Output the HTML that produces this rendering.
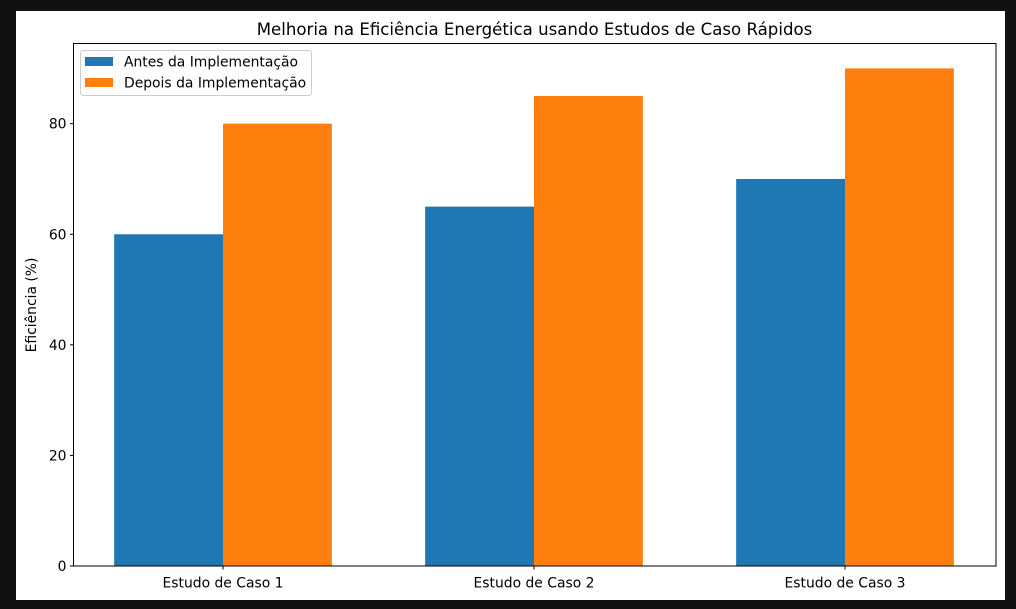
<!DOCTYPE html>
<html><head><meta charset="utf-8"><style>
html,body{margin:0;padding:0;background:#111110;}
svg{display:block;font-family:"DejaVu Sans","Liberation Sans",sans-serif;}
</style></head><body>
<svg id="chart" width="1016" height="609" xmlns="http://www.w3.org/2000/svg">
<rect x="0" y="0" width="1016" height="609" fill="#111110"/>
<rect x="16" y="11" width="989" height="589" fill="#ffffff"/>
<text x="534.5" y="35" font-size="16.6" text-anchor="middle" fill="#000">Melhoria na Eficiência Energética usando Estudos de Caso Rápidos</text>
<g id="bars"></g>
<g id="yticks"></g>
<g id="xticks"></g>
<rect x="73.5" y="43.5" width="922.5" height="522.5" fill="none" stroke="#000" stroke-width="1"/>
<text transform="translate(36,305) rotate(-90)" font-size="13.9" text-anchor="middle" fill="#000">Eficiência (%)</text>
<g>
<rect x="80.5" y="50.5" width="231" height="45" rx="3" fill="#fff" stroke="#ccc"/>
<rect x="85" y="57" width="28" height="9" fill="#1f77b4"/>
<text x="124" y="66.5" font-size="13.9" fill="#000">Antes da Implementação</text>
<rect x="85" y="78" width="28" height="9" fill="#ff7f0e"/>
<text x="124" y="87.5" font-size="13.9" fill="#000">Depois da Implementação</text>
</g>
</svg>
<script>
const categories = ["Estudo de Caso 1","Estudo de Caso 2","Estudo de Caso 3"];
const antes = [60,65,70];
const depois = [80,85,90];
const yTicks = [0,20,40,60,80];
const NS="http://www.w3.org/2000/svg";
const L=73.5,R=996,T=43.5,B=566;
const xMin=-0.4807,xMax=2.4855,yMin=0,yMax=94.5;
const xs=v=>L+(v-xMin)/(xMax-xMin)*(R-L);
const ys=v=>B-(v-yMin)/(yMax-yMin)*(B-T);
const bw=0.35;
function mk(tag,attrs,parent){const e=document.createElementNS(NS,tag);for(const k in attrs)e.setAttribute(k,attrs[k]);parent.appendChild(e);return e;}
const bars=document.getElementById('bars');
categories.forEach((c,i)=>{
  const a=mk('rect',{x:xs(i-bw),y:ys(antes[i]),width:xs(i)-xs(i-bw),height:ys(0)-ys(antes[i]),fill:'#1f77b4'},bars);
  
  
  const d=mk('rect',{x:xs(i),y:ys(depois[i]),width:xs(i+bw)-xs(i),height:ys(0)-ys(depois[i]),fill:'#ff7f0e'},bars);
  
  
});
const yt=document.getElementById('yticks');
yTicks.forEach(v=>{
  const l=mk('line',{x1:L-3.5,x2:L,y1:ys(v),y2:ys(v),stroke:'#000'},yt);
  
  
  const t=mk('text',{x:L-7,y:ys(v)+5,'font-size':13.9,'text-anchor':'end',fill:'#000'},yt);
  t.textContent=v;
  
  
});
const xt=document.getElementById('xticks');
categories.forEach((c,i)=>{
  const l=mk('line',{x1:xs(i),x2:xs(i),y1:B,y2:B+3.5,stroke:'#000'},xt);
  
  
  const t=mk('text',{x:xs(i),y:B+21.5,'font-size':13.9,'text-anchor':'middle',fill:'#000'},xt);
  t.textContent=c;
  
  
});
</script>
</body></html>
